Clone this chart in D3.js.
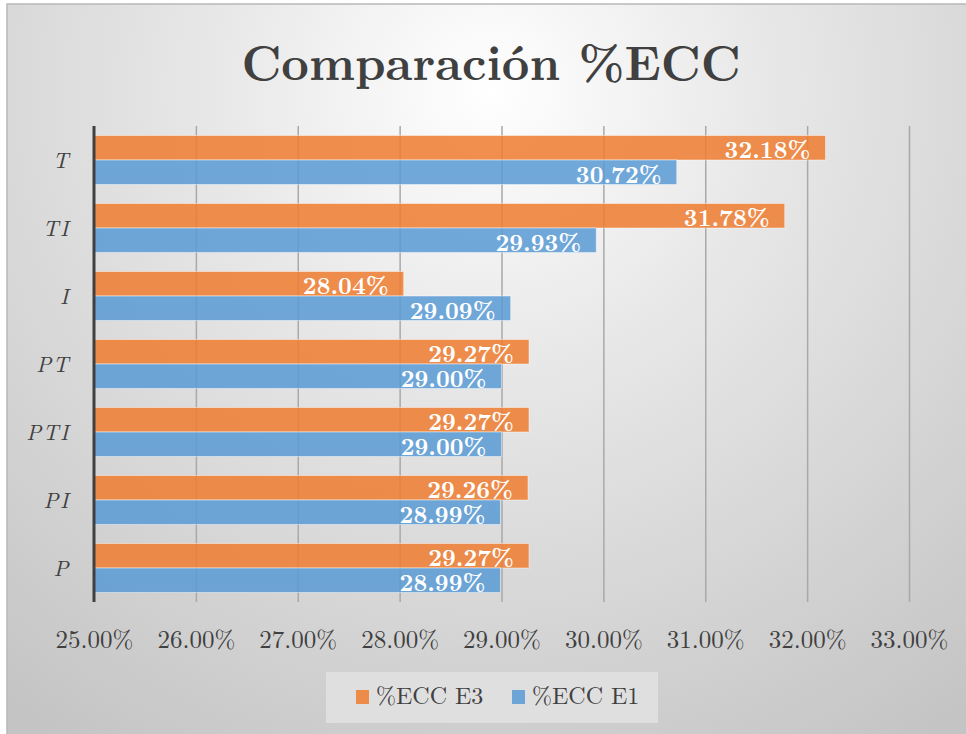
<!DOCTYPE html>
<html>
<head>
<meta charset="utf-8">
<script src="https://cdn.jsdelivr.net/npm/d3@7"></script>
<style>
  html, body { margin: 0; padding: 0; background: #fff; }
  svg { display: block; }
  svg text { font-family: "Latin Modern Roman", "Liberation Serif", serif; }
</style>
</head>
<body>
<div id="chart-area"></div>
<script>
// Data
const categories = ["T", "TI", "I", "PT", "PTI", "PI", "P"]
const ecc_e3 = [0.3218, 0.3178, 0.2804, 0.2927, 0.2927, 0.2926, 0.2927]
const ecc_e1 = [0.3072, 0.2993, 0.2909, 0.2900, 0.2900, 0.2899, 0.2899]
const seriesNames = ["%ECC E3", "%ECC E1"]
const xTicks = [0.25, 0.26, 0.27, 0.28, 0.29, 0.30, 0.31, 0.32, 0.33]

const W = 966, H = 734
const PLOT = { LEFT: 94, RIGHT: 909, TOP: 126, BOTTOM: 602 }
const COLORS = ["#ED7D31", "#5B9BD5"]

const data = categories.map((c, i) => ({ cat: c, values: [ecc_e3[i], ecc_e1[i]] }))

const svg = d3.select("#chart-area").append("svg")
  .attr("width", W)
  .attr("height", H)

// background gradient
const defs = svg.append("defs")
const grad = defs.append("radialGradient")
  .attr("id", "bg")
  .attr("gradientUnits", "userSpaceOnUse")
  .attr("cx", 490).attr("cy", 90).attr("r", 780)
grad.append("stop").attr("offset", "0%").attr("stop-color", "#ffffff")
grad.append("stop").attr("offset", "35%").attr("stop-color", "#e8e8e8")
grad.append("stop").attr("offset", "100%").attr("stop-color", "#c4c4c4")

svg.append("rect")
  .attr("x", 7).attr("y", 4)
  .attr("width", W).attr("height", H)
  .attr("fill", "url(#bg)")
  .attr("stroke", "#b8b8b8")
  .attr("stroke-width", 1.5)

// Scales
const x = d3.scaleLinear()
  .domain([0.25, 0.33])
  .range([PLOT.LEFT, PLOT.RIGHT])

const y = d3.scaleBand()
  .domain(categories)
  .range([PLOT.TOP, PLOT.BOTTOM])
  .paddingInner(0.28)
  .paddingOuter(0.14)

const ySub = d3.scaleBand()
  .domain([0, 1])
  .range([0, y.bandwidth()])

// Gridlines
const gridAxis = d3.axisBottom(x)
  .tickValues(xTicks.slice(1))
  .tickSize(-(PLOT.BOTTOM - PLOT.TOP))
  .tickFormat("")
const grid = svg.append("g")
  .attr("class", "grid")
  .attr("transform", `translate(0, ${PLOT.BOTTOM})`)
  .call(gridAxis)
grid.select(".domain").remove()
grid.selectAll("line")
  .attr("stroke", "#a9a9a9")
  .attr("stroke-width", 1.5)

// X tick labels
const bottomAxis = d3.axisBottom(x)
  .tickValues(xTicks)
  .tickSize(0)
  .tickPadding(0)
  .tickFormat(d3.format(".2%"))
const xg = svg.append("g")
  .attr("class", "x axis")
  .attr("transform", `translate(0, ${PLOT.BOTTOM})`)
  .call(bottomAxis)
xg.select(".domain").remove()
xg.attr("font-family", null).attr("font-size", null)
xg.selectAll("text")
  .attr("y", 46)
  .attr("dy", 0)
  .style("font-size", "25px")
  .attr("fill", "#404040")

// Bars
const groups = svg.selectAll("g.cat")
  .data(data)
  .enter().append("g")
  .attr("class", "cat")
  .attr("transform", d => `translate(0, ${y(d.cat)})`)

groups.selectAll("rect")
  .data(d => d.values)
  .enter().append("rect")
  .attr("x", x(0.25))
  .attr("y", (d, i) => ySub(i))
  .attr("width", d => x(d) - x(0.25))
  .attr("height", ySub.bandwidth())
  .attr("fill", (d, i) => COLORS[i])
  .attr("fill-opacity", 0.86)
  .attr("stroke", "rgba(255,255,255,0.45)")
  .attr("stroke-width", 1)

// Data labels
groups.selectAll("text")
  .data(d => d.values)
  .enter().append("text")
  .attr("x", d => x(d) - 15)
  .attr("y", (d, i) => ySub(i) + ySub.bandwidth() / 2 + 10.5)
  .attr("text-anchor", "end")
  .style("font-weight", "bold")
  .style("font-size", "24px")
  .attr("fill", "#ffffff")
  .text(d => d3.format(".2%")(d))

// Y axis line
svg.append("line")
  .attr("x1", PLOT.LEFT).attr("x2", PLOT.LEFT)
  .attr("y1", PLOT.TOP).attr("y2", PLOT.BOTTOM)
  .attr("stroke", "#404040")
  .attr("stroke-width", 3)

// Y labels
const leftAxis = d3.axisLeft(y).tickSize(0).tickPadding(0)
const yg = svg.append("g")
  .attr("class", "y axis")
  .attr("transform", `translate(${PLOT.LEFT - 24}, 0)`)
  .call(leftAxis)
yg.select(".domain").remove()
yg.attr("font-family", null).attr("font-size", null)
yg.selectAll("text")
  .style("font-style", "italic")
  .style("font-size", "22px")
  .style("letter-spacing", "1.5px")
  .attr("fill", "#404040")
  .attr("dy", "0.35em")

// Title
svg.append("text")
  .attr("x", 491)
  .attr("y", 80)
  .attr("text-anchor", "middle")
  .style("font-weight", "bold")
  .style("font-size", "48px")
  .attr("fill", "#404040")
  .text("Comparación %ECC")

// Legend
const legend = svg.append("g").attr("class", "legend")
legend.append("rect")
  .attr("x", 326).attr("y", 672)
  .attr("width", 332).attr("height", 51)
  .attr("fill", "#e2e2e2")
  .attr("fill-opacity", 0.85)

const legendX = [356, 512]
seriesNames.forEach((name, i) => {
  legend.append("rect")
    .attr("x", legendX[i]).attr("y", 690)
    .attr("width", 13).attr("height", 14)
    .attr("fill", COLORS[i])
    .attr("fill-opacity", 0.86)
  legend.append("text")
    .attr("x", legendX[i] + 20)
    .attr("y", 704)
    .style("font-size", "24px")
    .attr("fill", "#404040")
    .text(name)
})
</script>
</body>
</html>
